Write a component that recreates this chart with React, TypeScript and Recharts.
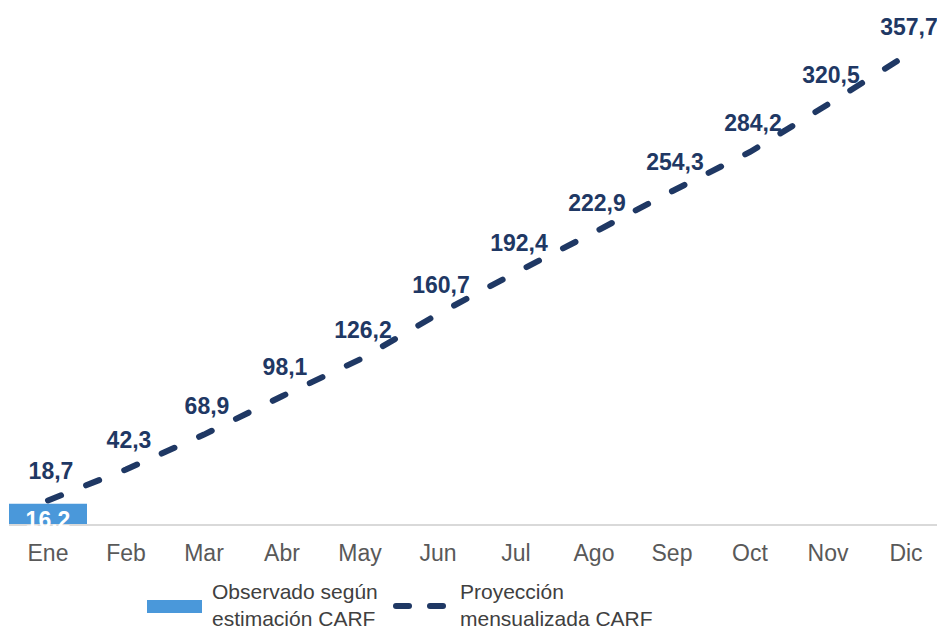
import { ComposedChart, Bar, Line, XAxis, YAxis, LabelList } from 'recharts';

const months = ['Ene', 'Feb', 'Mar', 'Abr', 'May', 'Jun', 'Jul', 'Ago', 'Sep', 'Oct', 'Nov', 'Dic'];
const observado = [16.2, null, null, null, null, null, null, null, null, null, null, null];
const proyeccion = [18.7, 42.3, 68.9, 98.1, 126.2, 160.7, 192.4, 222.9, 254.3, 284.2, 320.5, 357.7];

const data = months.map((m, i) => ({ month: m, observado: observado[i], proyeccion: proyeccion[i] }));

const NAVY = '#1F3864';
const BLUE = '#4A98DA';
const FONT = 'Arial, "Liberation Sans", sans-serif';

const fmt = (v: number) => v.toFixed(1).replace('.', ',');

const LineLabel = (props: any) => {
  const { x, y, value } = props;
  if (value == null) return null;
  return (
    <text x={x + 3} y={y - 21} textAnchor="middle" fill={NAVY} fontSize={23} fontWeight="bold" fontFamily={FONT}>
      {fmt(value)}
    </text>
  );
};

const BarLabel = (props: any) => {
  const { x, width, value } = props;
  if (value == null) return null;
  return (
    <text x={x + width / 2} y={528} textAnchor="middle" fill="#FFFFFF" fontSize={23} fontWeight="bold" fontFamily={FONT}>
      {fmt(value)}
    </text>
  );
};

export default function App() {
  return (
    <div style={{ position: 'absolute', left: 0, top: 0, width: 937, height: 630, overflow: 'hidden', background: '#fff', fontFamily: FONT }}>
      <ComposedChart width={945} height={630} data={data} margin={{ top: 0, right: 0, left: 9, bottom: 65 }} barCategoryGap={0}>
        <XAxis
          dataKey="month"
          axisLine={{ stroke: '#D9D9D9', strokeWidth: 2 }}
          tickLine={false}
          height={40}
          tick={{ fill: '#595959', fontSize: 23, fontFamily: FONT }}
          tickMargin={14}
          interval={0}
        />
        <YAxis hide domain={[0, 400]} />
        <Bar dataKey="observado" fill={BLUE} isAnimationActive={false}>
          <LabelList dataKey="observado" content={BarLabel} />
        </Bar>
        <Line
          dataKey="proyeccion"
          stroke={NAVY}
          strokeWidth={6}
          strokeDasharray="14 27"
          strokeLinecap="round"
          dot={false}
          activeDot={false}
          isAnimationActive={false}
        >
          <LabelList dataKey="proyeccion" content={LineLabel} />
        </Line>
      </ComposedChart>
      <div style={{ position: 'absolute', left: 147, top: 600, width: 55, height: 13, background: BLUE }} />
      <div style={{ position: 'absolute', left: 212, top: 578, fontSize: 21, lineHeight: '27px', color: '#404040', whiteSpace: 'nowrap' }}>
        Observado según
        <br />
        estimación CARF
      </div>
      <svg style={{ position: 'absolute', left: 388, top: 598 }} width={64} height={16}>
        <line x1={8} y1={8} x2={21} y2={8} stroke={NAVY} strokeWidth={6} strokeLinecap="round" />
        <line x1={42} y1={8} x2={55} y2={8} stroke={NAVY} strokeWidth={6} strokeLinecap="round" />
      </svg>
      <div style={{ position: 'absolute', left: 460, top: 578, fontSize: 21, lineHeight: '27px', color: '#404040', whiteSpace: 'nowrap' }}>
        Proyección
        <br />
        mensualizada CARF
      </div>
    </div>
  );
}
